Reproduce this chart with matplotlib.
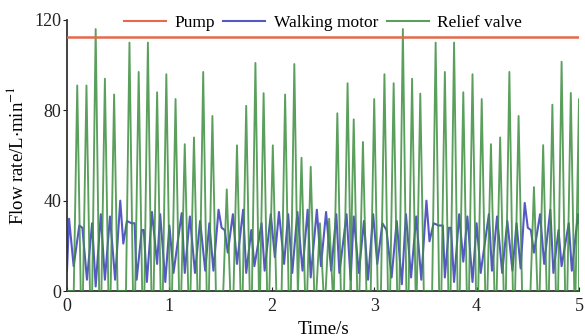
import numpy as np
import matplotlib
matplotlib.use("Agg")
import matplotlib.pyplot as plt

plt.rcParams['font.family'] = ['Liberation Serif', 'DejaVu Serif']
plt.rcParams['mathtext.fontset'] = 'stix'

# ---- data ----
pump_time = [0.0, 5.0]
pump_flow = [112.5, 112.5]

# relief valve: spike times and peak values (flow returns to 0 between spikes)
relief_peak_time = [0.10, 0.19, 0.28, 0.37, 0.46, 0.61, 0.70, 0.79, 0.88, 0.97,
                    1.06, 1.15, 1.24, 1.33, 1.42, 1.56, 1.66, 1.75, 1.84, 1.92,
                    2.01, 2.13, 2.22, 2.29, 2.38, 2.47, 2.56, 2.64, 2.74, 2.80, 2.89,
                    3.00, 3.10, 3.19, 3.28, 3.37, 3.45, 3.60, 3.69, 3.78, 3.87,
                    3.96, 4.05, 4.14, 4.23, 4.32, 4.41, 4.56, 4.65, 4.74, 4.83,
                    4.92, 5.00]
relief_peak_flow = [91, 91, 116, 94, 87, 110, 97, 110, 88, 96,
                    85, 65, 68, 97, 77.5, 45, 64.5, 82, 101, 87.6,
                    64.5, 87, 100.5, 59, 55, 30, 32, 78.7, 92, 76, 66,
                    85, 96, 92, 116, 94, 87.4, 110, 97, 110, 88,
                    96, 85, 65, 68, 97, 77.5, 46, 64.6, 82.5, 101.5,
                    87.7, 85]

motor_time = [0.00, 0.02, 0.065, 0.12, 0.15, 0.195, 0.245, 0.28, 0.33, 0.37,
              0.42, 0.47, 0.52, 0.55, 0.585, 0.63, 0.66, 0.68, 0.73, 0.75,
              0.78, 0.83, 0.88, 0.91, 0.96, 1.00, 1.04, 1.12, 1.15, 1.20,
              1.25, 1.30, 1.35, 1.39, 1.43, 1.48, 1.51, 1.54, 1.57, 1.62,
              1.66, 1.72, 1.75, 1.80, 1.83, 1.90, 1.93, 1.99, 2.03, 2.07,
              2.12, 2.16, 2.20, 2.25, 2.30, 2.35, 2.38, 2.44, 2.48, 2.53,
              2.58, 2.63, 2.66, 2.73, 2.77, 2.80, 2.85, 2.90, 2.94, 2.99,
              3.03, 3.08, 3.12, 3.17, 3.22, 3.27, 3.31, 3.36, 3.41, 3.46,
              3.51, 3.54, 3.58, 3.63, 3.67, 3.69, 3.73, 3.75, 3.78, 3.83,
              3.87, 3.91, 3.96, 4.00, 4.04, 4.12, 4.15, 4.20, 4.25, 4.30,
              4.35, 4.39, 4.43, 4.47, 4.50, 4.53, 4.56, 4.62, 4.66, 4.72,
              4.75, 4.80, 4.83, 4.90, 4.93, 4.99, 5.00]
motor_flow = [9, 32, 11, 29, 28, 5, 30, 2, 34, 5,
              33, 5, 40, 21, 31, 30, 30, 5, 27, 27,
              4, 35, 12, 34, 4, 29, 8, 34.5, 8, 33,
              8, 31, 9, 30, 9, 36, 28, 27, 17, 34,
              12, 36, 8, 27, 11, 30, 9, 34, 15, 35,
              12, 34, 8, 35, 9, 36, 6, 36, 11, 35,
              9, 34, 8, 34, 5, 33, 8, 31, 5, 34,
              12, 30, 27, 6, 31, 3, 34, 6, 33, 5,
              40, 22, 30, 29, 29, 6, 28, 28, 4, 34,
              13, 33, 4, 30, 8, 34, 9, 33, 8, 31,
              9, 30, 10, 39, 28, 27, 17, 34, 12, 36,
              8, 27, 11, 30, 9, 34, 30]

xticks = [0, 1, 2, 3, 4, 5]
yticks = [0, 40, 80, 120]

# build relief-valve trace: each spike rises from 0 and falls back to 0
half = 0.034
rt, rv = [0.0], [0.0]
for t, v in zip(relief_peak_time, relief_peak_flow):
    rt += [max(t - half, 0), t, min(t + half, 5.0)]
    rv += [0, v, 0]

fig = plt.figure(figsize=(5.85, 3.36), dpi=100)
ax = fig.add_axes([67/585, 45/336, 512/585, 271/336])

c_pump = '#E5694A'
c_motor = '#5559C4'
c_relief = '#3E8E40'

ax.plot(pump_time, pump_flow, color=c_pump, lw=1.8, label='Pump', zorder=4)
ax.plot(motor_time, motor_flow, color=c_motor, lw=1.5, label='Walking motor', zorder=2)
ax.plot(rt, rv, color=c_relief, lw=1.35, label='Relief valve', zorder=3, alpha=0.85)

ax.set_xlim(0, 5)
ax.set_ylim(0, 120)
ax.set_xticks(xticks)
ax.set_yticks(yticks)
ax.spines['top'].set_visible(False)
ax.spines['right'].set_visible(False)
for s in ('left', 'bottom'):
    ax.spines[s].set_color('#333333')
    ax.spines[s].set_linewidth(1.3)
ax.tick_params(axis='y', direction='out', length=3, labelsize=13, pad=1, colors='#222222')
ax.tick_params(axis='x', direction='in', length=3, labelsize=13, pad=5, colors='#222222')

ax.set_xlabel('Time/s', fontsize=13.5, labelpad=4)
ax.set_ylabel(r'Flow rate/L$\cdot$min$^{-1}$', fontsize=13.5, labelpad=5)

leg = ax.legend(loc='center', bbox_to_anchor=(0.5, 0.99), ncol=3, frameon=False,
                fontsize=12.5, handlelength=2.4, handletextpad=0.5, columnspacing=0.5,
                borderpad=0)
for line in leg.get_lines():
    line.set_linewidth(1.5)

fig.savefig('out.png', dpi=100)
